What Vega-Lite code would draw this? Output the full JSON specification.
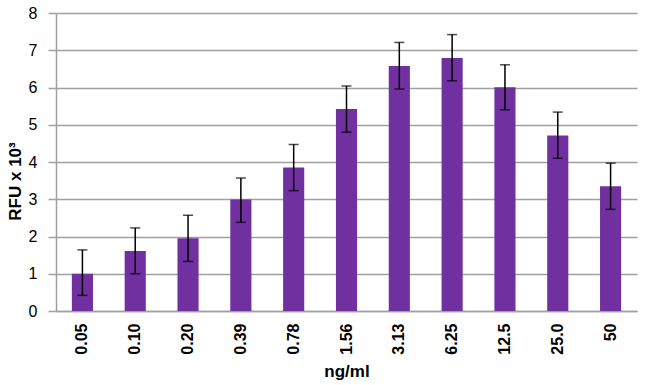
{
  "$schema": "https://vega.github.io/schema/vega-lite/v6.json",
  "autosize": "none",
  "width": 581,
  "height": 298,
  "padding": {"left": 56, "top": 13, "right": 13, "bottom": 74},
  "background": "white",
  "config": {
    "view": {"stroke": null},
    "font": "Liberation Sans",
    "axisY": {
      "titleFont": "Liberation Sans",
      "titleFontSize": 17,
      "titleFontWeight": "bold",
      "titleColor": "black",
      "titleX": -32,
      "titleY": 168,
      "labelFont": "Liberation Sans",
      "labelFontSize": 16,
      "labelColor": "black",
      "labelPadding": 11,
      "tickSize": 8,
      "tickColor": "#a0a0a0",
      "tickWidth": 1.5,
      "domainColor": "#a0a0a0",
      "domainWidth": 1.5,
      "grid": true,
      "gridColor": "#a0a0a0",
      "gridWidth": 1.5
    }
  },
  "data": {
    "values": [
      {"conc": "0.05", "rfu": 1.00, "lo": 0.42, "hi": 1.64},
      {"conc": "0.10", "rfu": 1.61, "lo": 1.00, "hi": 2.23},
      {"conc": "0.20", "rfu": 1.95, "lo": 1.33, "hi": 2.57},
      {"conc": "0.39", "rfu": 2.99, "lo": 2.38, "hi": 3.57},
      {"conc": "0.78", "rfu": 3.85, "lo": 3.23, "hi": 4.47},
      {"conc": "1.56", "rfu": 5.42, "lo": 4.80, "hi": 6.04},
      {"conc": "3.13", "rfu": 6.58, "lo": 5.96, "hi": 7.21},
      {"conc": "6.25", "rfu": 6.79, "lo": 6.18, "hi": 7.42},
      {"conc": "12.5", "rfu": 6.01, "lo": 5.40, "hi": 6.61},
      {"conc": "25.0", "rfu": 4.71, "lo": 4.10, "hi": 5.34},
      {"conc": "50", "rfu": 3.35, "lo": 2.73, "hi": 3.97}
    ]
  },
  "encoding": {
    "x": {
      "field": "conc",
      "type": "nominal",
      "sort": null,
      "scale": {"paddingInner": 0.6, "paddingOuter": 0.3},
      "axis": {
        "title": "ng/ml",
        "titleFont": "Liberation Sans",
        "titleFontSize": 17,
        "titleFontWeight": "bold",
        "titleColor": "black",
        "titlePadding": 9,
        "labelAngle": -90,
        "labelFont": "Liberation Sans",
        "labelFontSize": 16,
        "labelFontWeight": "bold",
        "labelColor": "black",
        "labelPadding": 12,
        "ticks": false,
        "domainColor": "#a0a0a0",
        "domainWidth": 1.5,
        "grid": false
      }
    }
  },
  "layer": [
    {
      "mark": {"type": "bar", "color": "#7030A0"},
      "encoding": {
        "y": {
          "field": "rfu",
          "type": "quantitative",
          "scale": {"domain": [0, 8]},
          "axis": {"title": "RFU x 10³", "values": [0, 1, 2, 3, 4, 5, 6, 7, 8]}
        }
      }
    },
    {
      "mark": {"type": "rule", "color": "black", "strokeWidth": 1.5},
      "encoding": {
        "y": {"field": "lo", "type": "quantitative", "axis": {"title": "RFU x 10³", "values": [0, 1, 2, 3, 4, 5, 6, 7, 8]}},
        "y2": {"field": "hi"}
      }
    },
    {
      "mark": {"type": "tick", "color": "black", "size": 10, "thickness": 1.5},
      "encoding": {
        "y": {"field": "lo", "type": "quantitative", "axis": {"title": "RFU x 10³", "values": [0, 1, 2, 3, 4, 5, 6, 7, 8]}}
      }
    },
    {
      "mark": {"type": "tick", "color": "black", "size": 10, "thickness": 1.5},
      "encoding": {
        "y": {"field": "hi", "type": "quantitative", "axis": {"title": "RFU x 10³", "values": [0, 1, 2, 3, 4, 5, 6, 7, 8]}}
      }
    }
  ]
}
